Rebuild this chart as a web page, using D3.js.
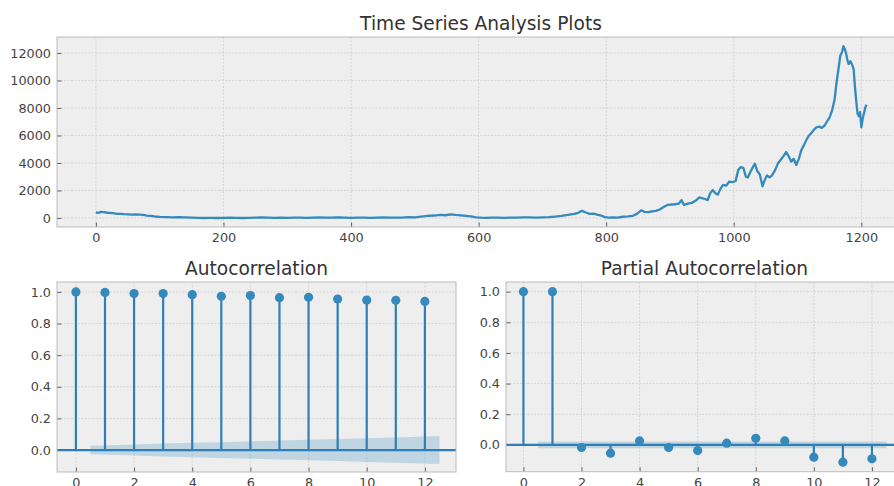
<!DOCTYPE html>
<html>
<head>
<meta charset="utf-8">
<script src="https://cdn.jsdelivr.net/npm/d3@7"></script>
<style>
  html, body { margin: 0; padding: 0; background: #ffffff; }
  svg { display: block; }
  text { font-family: "DejaVu Sans", sans-serif; }
</style>
</head>
<body>
<svg id="chart" width="894" height="486"></svg>
<script>
// ---------------- data ----------------
const seriesIndex = [0,4,8,12,16,20,26,32,38,44,50,56,62,68,74,80,86,92,100,110,120,130,140,150,160,170,180,190,200,210,220,230,240,250,260,270,280,290,300,310,320,330,340,350,360,370,380,390,400,410,420,430,440,450,460,470,480,490,500,510,520,530,540,548,556,564,572,580,588,596,604,612,620,630,640,650,660,670,680,690,700,710,720,730,740,750,756,762,768,774,780,786,792,798,804,810,818,826,834,842,848,855,860,866,872,878,884,890,896,902,908,914,918,922,928,934,940,946,950,955,959,963,967,971,975,979,983,988,993,998,1003,1007,1011,1015,1019,1022,1026,1030,1033,1037,1041,1045,1048,1052,1056,1060,1065,1069,1073,1078,1082,1086,1090,1094,1098,1102,1106,1110,1114,1118,1122,1126,1130,1134,1138,1142,1146,1150,1154,1158,1161,1164,1167,1170,1172,1174,1176,1178,1180,1183,1186,1188,1190,1192,1194,1196,1198,1200,1202,1204,1206,1208];
const seriesValue = [400,370,440,430,400,380,350,310,300,280,270,250,260,240,220,180,150,110,80,70,50,60,40,30,10,0,5,0,10,20,10,0,10,30,40,20,10,20,10,30,20,10,30,40,20,30,40,20,10,30,20,10,20,40,30,20,30,60,50,100,150,180,230,200,260,220,190,160,110,40,20,10,30,20,10,30,20,40,50,30,40,60,100,150,230,300,380,520,400,300,320,240,180,60,20,40,30,90,120,160,300,560,450,420,480,520,620,800,950,980,1000,1050,1300,950,1050,1100,1250,1500,1450,1380,1300,1800,2030,1800,1700,2100,2400,2350,2650,2600,2700,3500,3700,3650,3000,2950,3350,3700,3950,3400,3150,2300,2700,3100,2950,3100,3500,3950,4200,4500,4800,4500,4100,4300,3850,4300,4950,5300,5700,6000,6200,6450,6600,6650,6550,6700,7000,7300,7800,8600,9800,10800,11800,12100,12500,12300,12000,11500,11200,11400,11100,10800,9500,8500,7600,7400,7700,6600,7200,7600,8000,8250];

const seriesXTicks = [0,200,400,600,800,1000,1200];
const seriesYTicks = [0,2000,4000,6000,8000,10000,12000];

const lags = [0,1,2,3,4,5,6,7,8,9,10,11,12];
const acfValues = [1.0,0.997,0.99,0.99,0.983,0.973,0.977,0.964,0.966,0.955,0.949,0.947,0.94];
const acfConf = [0.027,0.035,0.041,0.046,0.05,0.055,0.06,0.065,0.07,0.075,0.08,0.088]; // half-widths for lags 1..12
const pacfValues = [1.0,1.0,-0.017,-0.054,0.026,-0.017,-0.037,0.011,0.043,0.026,-0.08,-0.113,-0.091];
const pacfConf = [0.022,0.022,0.022,0.022,0.022,0.022,0.022,0.022,0.022,0.022,0.022,0.022];

const lagTicks = [0,2,4,6,8,10,12];
const corrTicks = [0,0.2,0.4,0.6,0.8,1.0];

const titles = ["Time Series Analysis Plots", "Autocorrelation", "Partial Autocorrelation"];

// ---------------- style ----------------
const BLUE = "#348ABD";
const STEM = "#2f7fb6";
const FACE = "#eeeeee";
const EDGE = "#bcbcbc";
const GRID = "#d2d2d2";
const TICKTXT = "#444444";
const TITLE = "#333333";
const TICKFS = "12.8px";
const TITLEFS = "18.6px";

const svg = d3.select("#chart");

function drawAxes(box, xs, ys, xt, yt, fmtX, fmtY) {
  const g = svg.append("g");
  g.append("rect").attr("x", box.x0).attr("y", box.y0)
    .attr("width", box.x1 - box.x0).attr("height", box.y1 - box.y0)
    .attr("fill", FACE);
  // grid
  g.selectAll(".vg").data(xt).join("line")
    .attr("x1", d => xs(d)).attr("x2", d => xs(d))
    .attr("y1", box.y0).attr("y2", box.y1)
    .attr("stroke", GRID).attr("stroke-width", 0.9).attr("stroke-dasharray", "2,1.5");
  g.selectAll(".hg").data(yt).join("line")
    .attr("y1", d => ys(d)).attr("y2", d => ys(d))
    .attr("x1", box.x0).attr("x2", box.x1)
    .attr("stroke", GRID).attr("stroke-width", 0.9).attr("stroke-dasharray", "2,1.5");
  // axes
  const ax = g.append("g").attr("transform", `translate(0,${box.y1})`)
    .call(d3.axisBottom(xs).tickValues(xt).tickFormat(fmtX).tickSizeInner(-4.5).tickSizeOuter(0).tickPadding(6));
  const ay = g.append("g").attr("transform", `translate(${box.x0},0)`)
    .call(d3.axisLeft(ys).tickValues(yt).tickFormat(fmtY).tickSizeInner(-4.5).tickSizeOuter(0).tickPadding(6));
  [ax, ay].forEach(a => {
    a.select(".domain").remove();
    a.selectAll(".tick line").attr("stroke", "#555555").attr("stroke-width", 0.9);
    a.selectAll(".tick text").attr("fill", TICKTXT).style("font-size", TICKFS)
      .style("font-family", "DejaVu Sans, sans-serif");
  });
  return g;
}

function frame(box) {
  svg.append("rect").attr("x", box.x0).attr("y", box.y0)
    .attr("width", box.x1 - box.x0).attr("height", box.y1 - box.y0)
    .attr("fill", "none").attr("stroke", EDGE).attr("stroke-width", 1);
}

// ---------------- top: time series ----------------
const topBox = {x0: 57, x1: 906, y0: 37, y1: 227};
const xTop = d3.scaleLinear().domain([-61, 1270]).range([topBox.x0, topBox.x1]);
const yTop = d3.scaleLinear().domain([-655, 13164]).range([topBox.y1, topBox.y0]);
drawAxes(topBox, xTop, yTop, seriesXTicks, seriesYTicks, d3.format("d"), d3.format("d"));
const pts = seriesIndex.map((t, i) => [t, seriesValue[i]]);
svg.append("path").datum(pts)
  .attr("fill", "none").attr("stroke", BLUE).attr("stroke-width", 2.3)
  .attr("stroke-linejoin", "round")
  .attr("d", d3.line().x(d => xTop(d[0])).y(d => yTop(d[1])));
frame(topBox);
svg.append("text").attr("x", 481).attr("y", 29.5).attr("text-anchor", "middle")
  .attr("fill", TITLE).style("font-size", TITLEFS).text(titles[0]);

// ---------------- correlation panels ----------------
function corrPanel(box, xDom, yDom, values, conf, title) {
  const xs = d3.scaleLinear().domain(xDom).range([box.x0, box.x1]);
  const ys = d3.scaleLinear().domain(yDom).range([box.y1, box.y0]);
  drawAxes(box, xs, ys, lagTicks, corrTicks, d3.format("d"), d3.format(".1f"));
  // confidence band (lags 1..12, ends shifted by 0.5)
  const bandLags = lags.slice(1).map((l, i, arr) => i === 0 ? l - 0.5 : (i === arr.length - 1 ? l + 0.5 : l));
  const band = bandLags.map((l, i) => ({x: l, lo: -conf[i], hi: conf[i]}));
  svg.append("path").datum(band)
    .attr("fill", BLUE).attr("fill-opacity", 0.25)
    .attr("d", d3.area().x(d => xs(d.x)).y0(d => ys(d.lo)).y1(d => ys(d.hi)));
  // zero line
  svg.append("line").attr("x1", box.x0).attr("x2", box.x1)
    .attr("y1", ys(0)).attr("y2", ys(0))
    .attr("stroke", STEM).attr("stroke-width", 2.2);
  // stems
  svg.append("g").selectAll("line").data(lags).join("line")
    .attr("x1", d => xs(d)).attr("x2", d => xs(d))
    .attr("y1", ys(0)).attr("y2", (d, i) => ys(values[i]))
    .attr("stroke", STEM).attr("stroke-width", 2.2);
  svg.append("g").selectAll("circle").data(lags).join("circle")
    .attr("cx", d => xs(d)).attr("cy", (d, i) => ys(values[i]))
    .attr("r", 4.6).attr("fill", BLUE);
  frame(box);
  svg.append("text").attr("x", (box.x0 + box.x1) / 2).attr("y", 275)
    .attr("text-anchor", "middle").attr("fill", TITLE)
    .style("font-size", TITLEFS).text(title);
}

corrPanel({x0: 57, x1: 456, y0: 282, y1: 472}, [-0.65, 13.07], [-0.139, 1.063], acfValues, acfConf, titles[1]);
corrPanel({x0: 506, x1: 903, y0: 282, y1: 471.7}, [-0.6, 13.07], [-0.175, 1.063], pacfValues, pacfConf, titles[2]);
</script>
</body>
</html>
